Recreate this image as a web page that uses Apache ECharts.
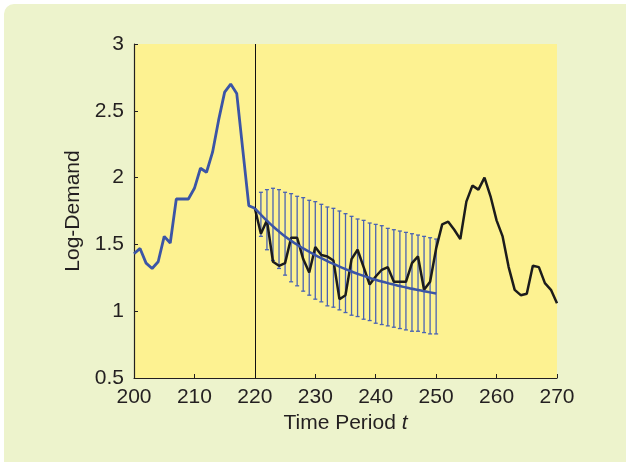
<!DOCTYPE html>
<html>
<head>
<meta charset="utf-8">
<script src="https://cdn.jsdelivr.net/npm/echarts@6/dist/echarts.min.js"></script>
<style>
html, body { margin: 0; padding: 0; background: #ffffff; }
#chart { width: 626px; height: 462px; }
</style>
</head>
<body>
<div id="chart"></div>
<script>
// 历史数据 t = 200..220
var histT = [200, 201, 202, 203, 204, 205, 206, 207, 208, 209, 210, 211, 212, 213, 214, 215, 216, 217, 218, 219, 220];
var histY = [1.43, 1.47, 1.36, 1.32, 1.37, 1.56, 1.51, 1.84, 1.84, 1.84, 1.92, 2.07, 2.04, 2.19, 2.43, 2.64, 2.70, 2.63, 2.21, 1.79, 1.77];

// 实际数据 t = 220..270
var actualT = [];
for (var t = 220; t <= 270; t++) actualT.push(t);
var actualY = [1.77, 1.58, 1.68, 1.37, 1.34, 1.36, 1.55, 1.55, 1.39, 1.29,
    1.48, 1.42, 1.41, 1.38, 1.09, 1.12, 1.39, 1.46, 1.33, 1.20,
    1.26, 1.31, 1.33, 1.22, 1.22, 1.22, 1.36, 1.41, 1.16, 1.22,
    1.47, 1.65, 1.67, 1.61, 1.54, 1.82, 1.94, 1.91, 2.00, 1.86,
    1.68, 1.56, 1.33, 1.16, 1.12, 1.13, 1.34, 1.33, 1.21, 1.16, 1.06];

// 预测 t = 220..250
var fcT = [];
for (var t = 220; t <= 250; t++) fcT.push(t);
var fcY = [1.770, 1.722, 1.677, 1.635, 1.596, 1.560, 1.527, 1.497, 1.470, 1.445,
    1.420, 1.397, 1.375, 1.354, 1.334, 1.315, 1.297, 1.280, 1.264, 1.249,
    1.235, 1.222, 1.210, 1.199, 1.188, 1.178, 1.168, 1.159, 1.150, 1.141, 1.132];

// 误差棒 t = 221..250
var barT = [];
for (var t = 221; t <= 250; t++) barT.push(t);
var barHigh = [1.89, 1.91, 1.92, 1.91, 1.89, 1.88, 1.86, 1.85, 1.83, 1.82,
    1.80, 1.78, 1.77, 1.75, 1.73, 1.71, 1.69, 1.68, 1.66, 1.65,
    1.64, 1.62, 1.61, 1.60, 1.59, 1.58, 1.57, 1.56, 1.55, 1.54];
var barLow = [1.56, 1.46, 1.38, 1.32, 1.27, 1.22, 1.19, 1.15, 1.12, 1.09,
    1.07, 1.04, 1.03, 1.01, 0.99, 0.97, 0.96, 0.94, 0.93, 0.91,
    0.90, 0.89, 0.88, 0.87, 0.86, 0.85, 0.85, 0.84, 0.83, 0.83];

function zip(a, b) {
    var out = [];
    for (var i = 0; i < a.length; i++) out.push([a[i], b[i]]);
    return out;
}

var barData = [];
for (var i = 0; i < barT.length; i++) barData.push([barT[i], barLow[i], barHigh[i]]);

var chart = echarts.init(document.getElementById('chart'));

var blue = '#3b55a6';
var txt = '#231f20';
var font = 'Liberation Sans';

var option = {
    animation: false,
    graphic: [{
        type: 'rect',
        z: -10,
        shape: { x: 4, y: 4, width: 640, height: 480, r: 10 },
        style: { fill: '#edf3cc' }
    }],
    grid: {
        left: 134, top: 44, right: 69, bottom: 84,
        show: true,
        backgroundColor: '#fdf291',
        borderWidth: 0
    },
    xAxis: {
        type: 'value',
        min: 200, max: 270, interval: 10,
        axisLine: { lineStyle: { color: txt, width: 1.2 } },
        axisTick: { inside: true, length: 4, lineStyle: { color: txt } },
        axisLabel: { color: txt, fontSize: 21, fontFamily: font, margin: 9 },
        splitLine: { show: false },
        name: '{a|Time Period }{b|t}',
        nameLocation: 'middle',
        nameGap: 34,
        nameTextStyle: {
            rich: {
                a: { fontSize: 21, color: txt, fontFamily: font },
                b: { fontSize: 21, color: txt, fontFamily: font, fontStyle: 'italic' }
            }
        }
    },
    yAxis: {
        type: 'value',
        min: 0.5, max: 3, interval: 0.5,
        axisLine: { show: true, lineStyle: { color: txt, width: 1.2 } },
        axisTick: { show: true, inside: true, length: 4, lineStyle: { color: txt } },
        axisLabel: { color: txt, fontSize: 21, fontFamily: font, margin: 10 },
        splitLine: { show: false },
        name: 'Log-Demand',
        nameLocation: 'middle',
        nameGap: 48,
        nameTextStyle: { fontSize: 21, color: txt, fontFamily: font }
    },
    series: [
        {
            type: 'custom',
            name: 'bars',
            z: 2,
            data: barData,
            renderItem: function (params, api) {
                var x = api.value(0);
                var lo = api.coord([x, api.value(1)]);
                var hi = api.coord([x, api.value(2)]);
                var w = 2;
                var st = { stroke: '#4a63b3', lineWidth: 1.3 };
                return {
                    type: 'group',
                    children: [
                        { type: 'line', shape: { x1: lo[0], y1: lo[1], x2: hi[0], y2: hi[1] }, style: st },
                        { type: 'line', shape: { x1: lo[0] - w, y1: lo[1], x2: lo[0] + w, y2: lo[1] }, style: st },
                        { type: 'line', shape: { x1: hi[0] - w, y1: hi[1], x2: hi[0] + w, y2: hi[1] }, style: st }
                    ]
                };
            }
        },
        {
            type: 'line',
            name: 'actual',
            z: 3,
            data: zip(actualT, actualY),
            showSymbol: false,
            lineStyle: { color: '#1c1c1c', width: 2.5 },
            markLine: {
                silent: true,
                symbol: 'none',
                label: { show: false },
                lineStyle: { color: '#111', width: 1, type: 'solid' },
                data: [{ xAxis: 220 }]
            }
        },
        {
            type: 'line',
            name: 'history',
            z: 4,
            data: zip(histT, histY),
            showSymbol: false,
            lineStyle: { color: blue, width: 2.8 }
        },
        {
            type: 'line',
            name: 'forecast',
            z: 5,
            data: zip(fcT, fcY),
            showSymbol: false,
            smooth: true,
            lineStyle: { color: blue, width: 2.5 }
        }
    ]
};

chart.setOption(option);
</script>
</body>
</html>
